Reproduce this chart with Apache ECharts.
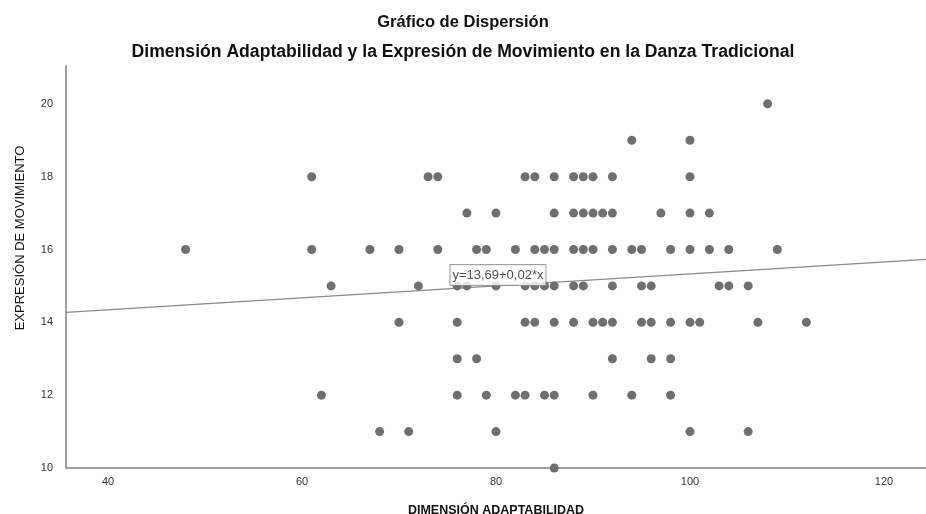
<!DOCTYPE html>
<html lang="es">
<head>
<meta charset="utf-8" />
<title>Gráfico de Dispersión</title>
<style>
  html, body { margin: 0; padding: 0; background: #fff; }
  #main { width: 926px; height: 514px; }
</style>
</head>
<body>
<div id="main"></div>
<script src="https://cdn.jsdelivr.net/npm/echarts@6/dist/echarts.min.js"></script>
<script>
// niveles de Y y los valores de X observados en cada nivel
var yLevels = [20, 19, 18, 17, 16, 15, 14, 13, 12, 11, 10];
var xByLevel = [
    [108],
    [94, 100],
    [61, 73, 74, 83, 84, 86, 88, 89, 90, 92, 100],
    [77, 80, 86, 88, 89, 90, 91, 92, 97, 100, 102],
    [48, 61, 67, 70, 74, 78, 79, 82, 84, 85, 86, 88, 89, 90, 92, 94, 95, 98, 100, 102, 104, 109],
    [63, 72, 76, 77, 80, 83, 84, 85, 86, 88, 89, 92, 95, 96, 103, 104, 106],
    [70, 76, 83, 84, 86, 88, 90, 91, 92, 95, 96, 98, 100, 101, 107, 112],
    [76, 78, 92, 96, 98],
    [62, 76, 79, 82, 83, 85, 86, 90, 94, 98],
    [68, 71, 80, 100, 106],
    [86]
];
var xTicks = [40, 60, 80, 100, 120];
var yTicks = [10, 12, 14, 16, 18, 20];
var xRange = [35.67, 124.33];
var yRange = [10, 21.04];
// recta de ajuste
var fitIntercept = 13.69;
var fitSlope = 0.0164;
var fitLabel = 'y=13,69+0,02*x';
var fitLabelAt = [80.2, 15.3];

var points = [];
yLevels.forEach(function (y, i) {
    xByLevel[i].forEach(function (x) { points.push([x, y]); });
});
var fitLine = xRange.map(function (x) { return [x, fitIntercept + fitSlope * x]; });

var myChart = echarts.init(document.getElementById('main'));
var option = {
    backgroundColor: '#fff',
    animation: false,
    title: [
        {
            text: 'Gráfico de Dispersión',
            left: 'center',
            top: 9,
            textStyle: { fontFamily: 'Liberation Sans', fontSize: 16.5, fontWeight: 'bold', color: '#111' }
        },
        {
            text: 'Dimensión Adaptabilidad y la Expresión de Movimiento en la Danza Tradicional',
            left: 'center',
            top: 38,
            textStyle: { fontFamily: 'Liberation Sans', fontSize: 17.6, fontWeight: 'bold', color: '#111' }
        }
    ],
    grid: { left: 66, right: 0, top: 66, bottom: 46, outerBoundsMode: 'none', containLabel: false },
    xAxis: {
        type: 'value',
        min: xRange[0],
        max: xRange[1],
        name: 'DIMENSIÓN ADAPTABILIDAD',
        nameLocation: 'middle',
        nameGap: 36,
        nameTextStyle: { fontFamily: 'Liberation Sans Narrow, Liberation Sans', fontSize: 12.5, fontWeight: 'bold', color: '#111' },
        splitLine: { show: false },
        axisTick: { show: false },
        axisLine: { lineStyle: { color: '#a0a0a0', width: 2 } },
        axisLabel: {
            customValues: xTicks,
            margin: 8,
            fontFamily: 'Liberation Sans',
            fontSize: 11,
            color: '#333'
        }
    },
    yAxis: {
        type: 'value',
        min: yRange[0],
        max: yRange[1],
        splitLine: { show: false },
        axisTick: { show: false },
        axisLine: { show: true, lineStyle: { color: '#a0a0a0', width: 2 } },
        axisLabel: {
            customValues: yTicks,
            margin: 13,
            fontFamily: 'Liberation Sans',
            fontSize: 11,
            color: '#333'
        }
    },
    graphic: [
        {
            type: 'text',
            x: 20,
            y: 238,
            rotation: Math.PI / 2,
            style: {
                text: 'EXPRESIÓN DE MOVIMIENTO',
                fontFamily: 'Liberation Sans',
                fontSize: 13,
                fill: '#111',
                align: 'center',
                verticalAlign: 'middle'
            }
        }
    ],
    series: [
        {
            type: 'line',
            data: fitLine,
            symbol: 'none',
            z: 1,
            lineStyle: { color: '#8a8a8a', width: 1.2 }
        },
        {
            type: 'scatter',
            data: points,
            symbolSize: 9,
            z: 2,
            itemStyle: { color: '#6f6f6f', opacity: 1 }
        },
        {
            type: 'scatter',
            data: [fitLabelAt],
            symbolSize: 0,
            z: 5,
            label: {
                show: true,
                position: 'inside',
                formatter: fitLabel,
                fontFamily: 'Liberation Sans',
                fontSize: 13,
                color: '#222',
                backgroundColor: '#fff',
                borderColor: '#8a8a8a',
                borderWidth: 1,
                padding: [4, 2, 3, 2]
            }
        }
    ]
};
myChart.setOption(option);
</script>
</body>
</html>
